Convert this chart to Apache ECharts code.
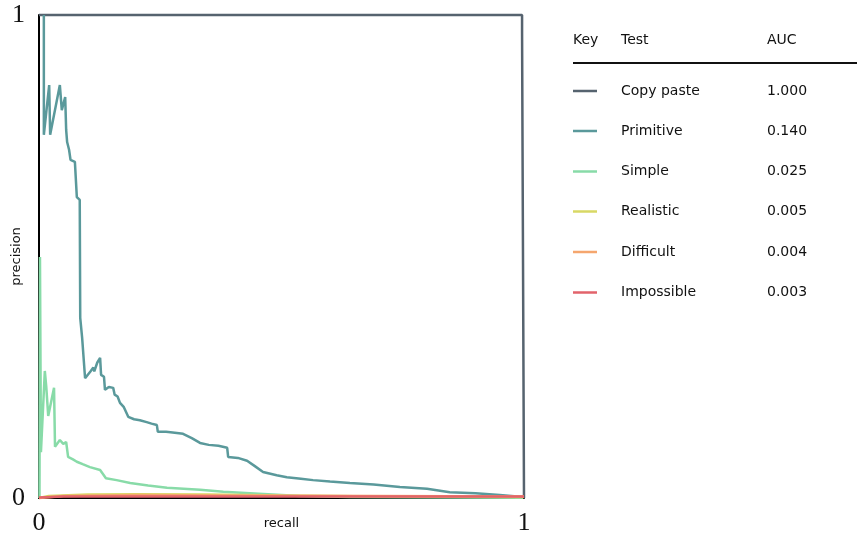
<!DOCTYPE html>
<html>
<head>
<meta charset="utf-8">
<script src="https://cdn.jsdelivr.net/npm/echarts@6/dist/echarts.min.js"></script>
<style>html,body{margin:0;padding:0;background:#fff;}#c{width:857px;height:539px;}</style>
</head>
<body>
<div id="c"></div>
<script>
// ---- data ----
const testNames = ['Copy paste', 'Primitive', 'Simple', 'Realistic', 'Difficult', 'Impossible'];
const aucValues = ['1.000', '0.140', '0.025', '0.005', '0.004', '0.003'];
const xTicks = [0, 1];
const yTicks = [0, 1];

const copyPaste = [[0,1],[0.996,1],[0.996,0.965],[1.0,0.965],[1.0,0]];
const primitive = [[0.010,1],[0.010,0.752],[0.021,0.855],[0.023,0.752],[0.043,0.855],[0.047,0.803],[0.054,0.830],[0.056,0.762],[0.058,0.737],[0.062,0.721],[0.065,0.700],[0.074,0.696],[0.078,0.623],[0.084,0.617],[0.085,0.373],[0.089,0.331],[0.093,0.327],[0.095,0.248],[0.106,0.262],[0.112,0.270],[0.114,0.262],[0.120,0.280],[0.126,0.290],[0.128,0.255],[0.134,0.251],[0.136,0.224],[0.144,0.230],[0.153,0.228],[0.156,0.214],[0.162,0.210],[0.167,0.197],[0.175,0.188],[0.184,0.168],[0.196,0.163],[0.208,0.161],[0.222,0.157],[0.232,0.154],[0.243,0.151],[0.245,0.137],[0.262,0.137],[0.280,0.135],[0.297,0.133],[0.315,0.124],[0.332,0.114],[0.350,0.110],[0.370,0.108],[0.388,0.104],[0.390,0.085],[0.410,0.083],[0.429,0.077],[0.445,0.066],[0.462,0.054],[0.490,0.047],[0.511,0.043],[0.540,0.040],[0.565,0.037],[0.600,0.034],[0.641,0.031],[0.690,0.028],[0.744,0.023],[0.800,0.019],[0.847,0.012],[0.900,0.010],[0.950,0.006],[0.998,0.002]];
const simple = [[0.001,0],[0.002,0.499],[0.004,0.095],[0.012,0.263],[0.015,0.230],[0.019,0.170],[0.031,0.228],[0.033,0.106],[0.043,0.120],[0.050,0.112],[0.056,0.116],[0.060,0.085],[0.070,0.080],[0.078,0.075],[0.090,0.070],[0.105,0.064],[0.126,0.058],[0.138,0.041],[0.160,0.037],[0.188,0.031],[0.225,0.026],[0.264,0.021],[0.332,0.017],[0.380,0.013],[0.435,0.010],[0.538,0.004],[0.641,0.002],[0.998,0.0005]];
const realistic = [[0,0],[0.02,0.004],[0.10,0.007],[0.20,0.008],[0.35,0.007],[0.50,0.005],[0.70,0.003],[1.0,0.002]];
const difficult = [[0,0],[0.05,0.004],[0.20,0.006],[0.40,0.005],[0.70,0.004],[1.0,0.003]];
const impossible = [[0,0.001],[0.05,0.003],[0.30,0.003],[0.60,0.003],[1.0,0.003]];

const seriesData = [copyPaste, primitive, simple, realistic, difficult, impossible];
const colors = ['#56636f', '#5a999b', '#88dba8', '#d8d865', '#f5a66e', '#e2636b'];

// ---- chart ----
const chart = echarts.init(document.getElementById('c'), null, {renderer: 'canvas'});
const sans = 'DejaVu Sans';
const serif = 'Liberation Serif';
const font = '14px "DejaVu Sans"';

const rowY = [91, 131, 171.5, 211.5, 252, 292.5];
const graphics = [
  {type:'text', x:573, y:40, style:{text:'Key', font:font, fill:'#111', textVerticalAlign:'middle'}},
  {type:'text', x:621, y:40, style:{text:'Test', font:font, fill:'#111', textVerticalAlign:'middle'}},
  {type:'text', x:767, y:40, style:{text:'AUC', font:font, fill:'#111', textVerticalAlign:'middle'}},
  {type:'line', shape:{x1:573, y1:63, x2:857, y2:63}, style:{stroke:'#111', lineWidth:2}}
];
testNames.forEach((n, i) => {
  graphics.push({type:'line', shape:{x1:573, y1:rowY[i], x2:597, y2:rowY[i]}, style:{stroke:colors[i], lineWidth:2.5}});
  graphics.push({type:'text', x:621, y:rowY[i], style:{text:n, font:font, fill:'#111', textVerticalAlign:'middle'}});
  graphics.push({type:'text', x:767, y:rowY[i], style:{text:aucValues[i], font:font, fill:'#111', textVerticalAlign:'middle'}});
});

chart.setOption({
  animation: false,
  backgroundColor: '#fff',
  grid: {left: 39, right: 333, top: 15, bottom: 41, containLabel: false, outerBoundsMode: 'none'},
  xAxis: {
    type: 'value', min: 0, max: 1, interval: 1,
    name: 'recall', nameLocation: 'middle', nameGap: 19, nameMoveOverlap: false,
    nameTextStyle: {fontFamily: sans, fontSize: 13, color: '#111'},
    axisLine: {show: true, onZero: false, lineStyle: {color: '#000', width: 2}},
    axisTick: {show: false},
    splitLine: {show: false},
    axisLabel: {fontFamily: serif, fontSize: 26, color: '#111', margin: 12,
      formatter: v => xTicks.includes(v) ? String(v) : ''}
  },
  yAxis: {
    type: 'value', min: 0, max: 1, interval: 1,
    name: 'precision', nameLocation: 'middle', nameGap: 16, nameMoveOverlap: false,
    nameTextStyle: {fontFamily: sans, fontSize: 13, color: '#111'},
    axisLine: {show: true, onZero: false, lineStyle: {color: '#000', width: 2}},
    axisTick: {show: false},
    splitLine: {show: false},
    axisLabel: {fontFamily: serif, fontSize: 26, color: '#111', margin: 14,
      formatter: v => yTicks.includes(v) ? String(v) : ''}
  },
  series: seriesData.map((d, i) => ({
    name: testNames[i], type: 'line', data: d, showSymbol: false, symbol: 'none',
    clip: false,
    lineStyle: {color: colors[i], width: 2.5}, itemStyle: {color: colors[i]},
    z: 2 + i
  })),
  graphic: graphics
});
</script>
</body>
</html>
